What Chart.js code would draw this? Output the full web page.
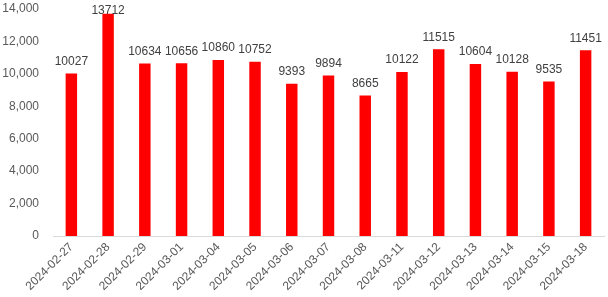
<!DOCTYPE html>
<html>
<head>
<meta charset="utf-8">
<script src="https://cdn.jsdelivr.net/npm/chart.js@4/dist/chart.umd.min.js"></script>
<style>
  html, body { margin: 0; padding: 0; background: #fff; }
  #wrap { width: 608px; height: 297px; }
</style>
</head>
<body>
<div id="wrap"><canvas id="chart"></canvas></div>
<script>
var dates = ["2024-02-27", "2024-02-28", "2024-02-29", "2024-03-01", "2024-03-04", "2024-03-05", "2024-03-06", "2024-03-07", "2024-03-08", "2024-03-11", "2024-03-12", "2024-03-13", "2024-03-14", "2024-03-15", "2024-03-18"];
var values = [10027, 13712, 10634, 10656, 10860, 10752, 9393, 9894, 8665, 10122, 11515, 10604, 10128, 9535, 11451];
var yTicks = [0, 2000, 4000, 6000, 8000, 10000, 12000, 14000];

// draws the value above each bar (kept inside the canvas at the top)
var barLabels = {
	id: "barLabels",
	afterDatasetsDraw: function(chart) {
		var ctx = chart.ctx;
		var meta = chart.getDatasetMeta(0);
		ctx.save();
		ctx.font = "12px 'Liberation Sans', Arial, sans-serif";
		ctx.fillStyle = "#404040";
		ctx.textAlign = "center";
		ctx.textBaseline = "bottom";
		meta.data.forEach(function(bar, i) {
			ctx.fillText(String(values[i]), bar.x, Math.max(bar.y - 6, 17));
		});
		ctx.restore();
	}
};

var chart = new Chart(document.getElementById("chart"), {
	type: "bar",
	data: {
		labels: dates,
		datasets: [{
			data: values,
			backgroundColor: "#ff0000",
			barPercentage: 0.6,
			categoryPercentage: 0.52
		}]
	},
	options: {
		responsive: true,
		maintainAspectRatio: false,
		animation: false,
		layout: { padding: { top: 9, right: 4, left: 0, bottom: 0 } },
		plugins: {
			legend: { display: false },
			tooltip: { enabled: false }
		},
		scales: {
			x: {
				afterFit: function(axis) {
					axis.height = 61;
					axis.paddingLeft = 0;
					axis.paddingRight = 0;
				},
				grid: { display: false, drawTicks: false },
				border: { display: true, color: "#d9d9d9", width: 1 },
				ticks: {
					color: "#595959",
					font: { size: 12, family: "'Liberation Sans', Arial, sans-serif" },
					maxRotation: 45,
					minRotation: 45,
					padding: 4,
					autoSkip: false
				}
			},
			y: {
				min: 0,
				max: 14000,
				afterBuildTicks: function(axis) {
					axis.ticks = yTicks.map(function(v) { return { value: v }; });
				},
				afterFit: function(axis) {
					axis.width = 53;
					axis.paddingTop = 0;
					axis.paddingBottom = 0;
				},
				grid: { display: false, drawTicks: false },
				border: { display: false },
				ticks: {
					color: "#595959",
					font: { size: 12, family: "'Liberation Sans', Arial, sans-serif" },
					padding: 14,
					callback: function(v) { return v.toLocaleString("en-US"); }
				}
			}
		}
	},
	plugins: [barLabels]
});
</script>
</body>
</html>
